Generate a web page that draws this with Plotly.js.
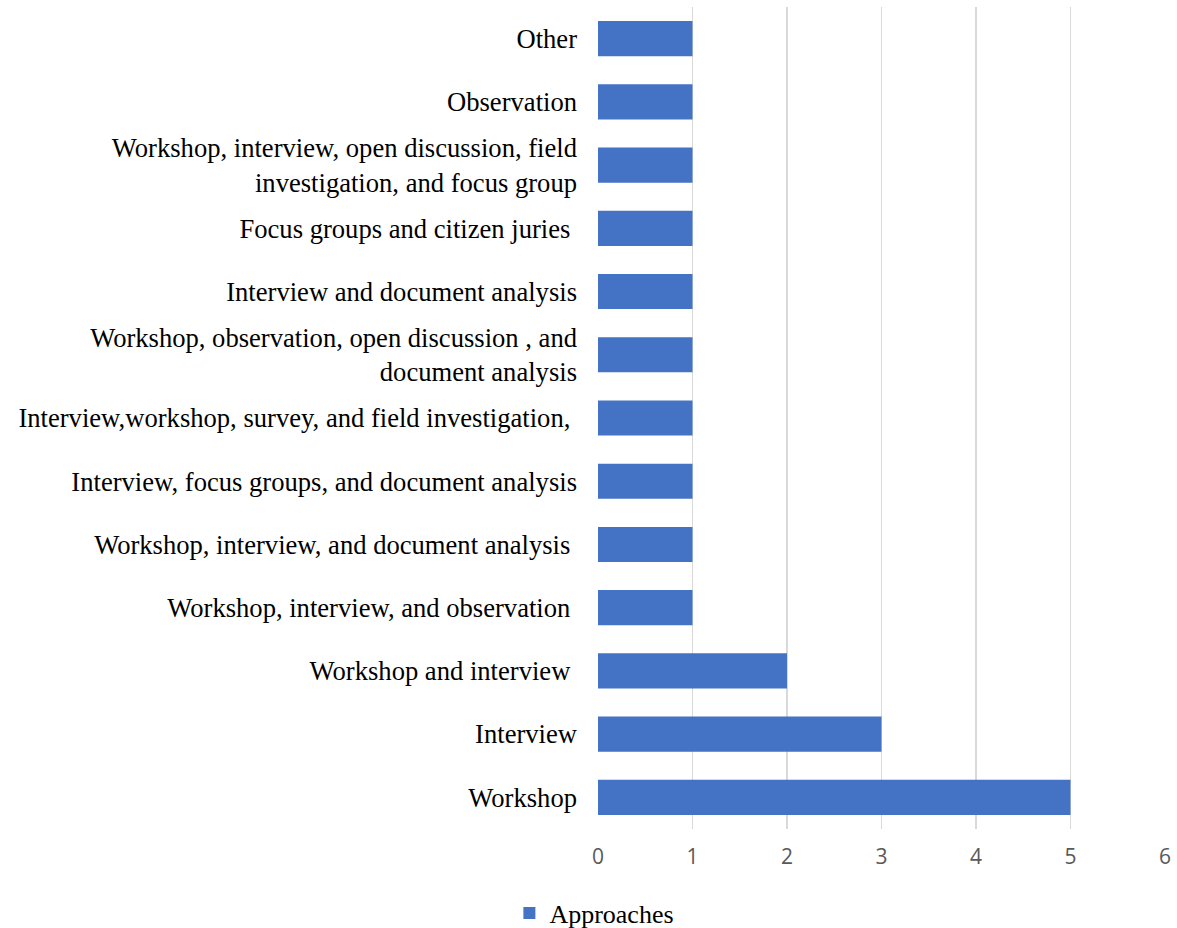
<!DOCTYPE html>
<html>
<head>
<meta charset="utf-8">
<script src="https://cdn.plot.ly/plotly-3.0.1.min.js"></script>
<style>html,body{margin:0;padding:0;background:#fff;}#chart{width:1177px;height:928px;}</style>
</head>
<body>
<div id="chart"></div>
<script>
// Categories listed bottom to top
const categories = [
  "Workshop",
  "Interview",
  "Workshop and interview\u00a0",
  "Workshop, interview, and observation\u00a0",
  "Workshop, interview, and document analysis\u00a0",
  "Interview, focus groups, and document analysis",
  "Interview,workshop, survey, and field investigation,\u00a0",
  "Workshop, observation, open discussion , and<br>document analysis",
  "Interview and document analysis",
  "Focus groups and citizen juries\u00a0",
  "Workshop, interview, open discussion, field<br>investigation, and focus group",
  "Observation",
  "Other"
];
const approaches = [5, 3, 2, 1, 1, 1, 1, 1, 1, 1, 1, 1, 1];
const seriesName = "Approaches";
const xTicks = [0, 1, 2, 3, 4, 5, 6];

const trace = {
  type: "bar",
  orientation: "h",
  name: seriesName,
  x: approaches,
  y: categories.map((c, i) => i),
  marker: { color: "#4472C4" },
  showlegend: true,
  hoverinfo: "x+y"
};

const layout = {
  width: 1177,
  height: 928,
  margin: { l: 598, r: 12, t: 7, b: 99 },
  paper_bgcolor: "#ffffff",
  plot_bgcolor: "#ffffff",
  bargap: 0.444,
  showlegend: true,
  xaxis: {
    range: [0, 6],
    tickvals: xTicks,
    ticktext: xTicks.map(String),
    showgrid: true,
    gridcolor: "#d9d9d9",
    gridwidth: 1.5,
    zeroline: false,
    showline: false,
    ticks: "",
    ticklabelstandoff: 13,
    tickfont: { family: "Open Sans, sans-serif", size: 21, color: "#595959" },
    fixedrange: true
  },
  yaxis: {
    range: [-0.5, 12.5],
    tickvals: categories.map((c, i) => i),
    ticktext: categories,
    showgrid: false,
    zeroline: false,
    showline: false,
    ticks: "",
    ticklabelstandoff: 20,
    tickfont: { family: "Liberation Serif, Times New Roman, serif", size: 26.6, color: "#000000" },
    fixedrange: true
  },
  legend: {
    orientation: "h",
    xref: "container",
    yref: "container",
    x: 0.505,
    xanchor: "center",
    y: 0.016,
    yanchor: "middle",
    font: { family: "Liberation Serif, Times New Roman, serif", size: 26, color: "#000000" },
    itemwidth: 30
  }
};

Plotly.newPlot("chart", [trace], layout, { displayModeBar: false, staticPlot: true });
</script>
</body>
</html>
